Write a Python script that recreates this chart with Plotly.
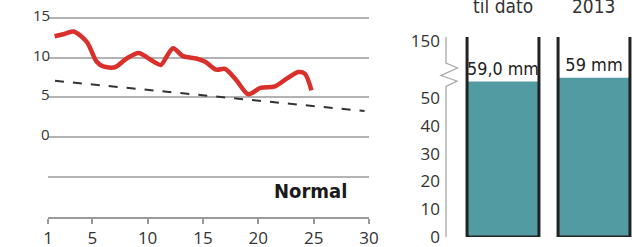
import plotly.graph_objects as go

# ---- data ----
days = [1.6, 2.4, 3.3, 4.5, 5.4, 6.0, 7.05, 8.1, 9.2, 10.2, 11.2, 11.7, 12.3, 13.2,
        14.4, 15.2, 16.2, 17.0, 18.0, 19.1, 20.2, 21.5, 22.6, 23.6, 24.2, 24.8]
temps = [12.7, 12.95, 13.3, 12.0, 9.5, 8.9, 8.8, 9.9, 10.6, 9.8, 9.1, 10.1, 11.2, 10.2,
         9.9, 9.5, 8.5, 8.6, 7.2, 5.4, 6.2, 6.4, 7.4, 8.2, 8.0, 5.9]
normal_days = [1.63, 29.6]
normal_vals = [7.1, 3.3]
x_ticks = [1, 5, 10, 15, 20, 25, 30]
y_grid = [-5, 0, 5, 10, 15]
y_labels = [0, 5, 10, 15]

bar_titles = ["til dato", "2013"]
bar_heights = [55.9, 57.3]
bar_labels = ["59,0 mm", "59 mm"]
bar_ticks = [0, 10, 20, 30, 40, 50, 70.5]
bar_ticktext = ["0", "10", "20", "30", "40", "50", "150"]

W, H = 632, 247
TEAL = "#529ba3"
TXT = "#333333"
NARROW = "DejaVu Sans Condensed, Roboto, sans-serif"
SANS = "Open Sans, sans-serif"

def px_x(p):
    return p / W

def px_y(p):
    return (H - p) / H

fig = go.Figure()

fig.add_trace(go.Scatter(x=normal_days, y=normal_vals, mode="lines",
                         line=dict(color="#333333", width=2, dash="dash"),
                         xaxis="x", yaxis="y", showlegend=False))
fig.add_trace(go.Scatter(x=days, y=temps, mode="lines",
                         line=dict(color="#d9302c", width=4.5, shape="spline", smoothing=0.8),
                         xaxis="x", yaxis="y", showlegend=False))

bar_x = list(range(len(bar_heights)))
BW = 0.79
fig.add_trace(go.Bar(x=bar_x, y=bar_heights, width=BW, marker=dict(color=TEAL, line=dict(width=0)),
                     text=bar_labels, textposition="outside", cliponaxis=False,
                     textfont=dict(family=NARROW, size=18, color="#222222"),
                     xaxis="x2", yaxis="y2", showlegend=False))

fig.update_layout(
    width=W, height=H, margin=dict(l=0, r=0, t=0, b=0, autoexpand=False),
    paper_bgcolor="white", plot_bgcolor="white",
    xaxis=dict(domain=[px_x(48), px_x(369)], range=[1, 30], tickvals=x_ticks,
               showgrid=False, zeroline=False, showline=True, linecolor="#9a9a9a", linewidth=1.5,
               ticks="outside", ticklen=5, tickcolor="#9a9a9a", tickwidth=1.5,
               ticklabeloverflow="allow",
               tickfont=dict(family=SANS, size=17, color=TXT), anchor="y", automargin=False),
    yaxis=dict(domain=[px_y(217), px_y(10)], range=[-10.03, 16.0], tickvals=y_grid,
               showticklabels=False, showgrid=True, gridcolor="#b3b3b3", gridwidth=1.6,
               zeroline=False, showline=False, anchor="x", automargin=False),
    xaxis2=dict(domain=[px_x(447), 1], range=[(447 - 503) / 91, (632 - 503) / 91],
                showticklabels=False, showgrid=False, zeroline=False, showline=False,
                anchor="y2", automargin=False),
    yaxis2=dict(domain=[px_y(237), px_y(30)], range=[0, (237 - 30) / 2.78],
                tickvals=bar_ticks, ticktext=bar_ticktext, ticks="", ticklabelstandoff=6,
                ticklabeloverflow="allow",
                tickfont=dict(family=SANS, size=17, color=TXT),
                showgrid=False, zeroline=False, showline=False, anchor="x2", automargin=False),
)

# y labels of left chart
for v in y_labels:
    fig.add_annotation(x=px_x(52), xref="paper", y=v, yref="y", text=str(v), showarrow=False,
                       xanchor="right", yanchor="middle", yshift=3,
                       font=dict(family=SANS, size=15, color=TXT))

fig.add_annotation(x=24.7, y=-6.76, xref="x", yref="y", text="<b>Normal</b>", showarrow=False,
                   xanchor="center", yanchor="middle",
                   font=dict(family=NARROW, size=20, color="#1a1a1a"))

# bar headers (cut at top)
for i, t in enumerate(bar_titles):
    fig.add_annotation(x=i, xref="x2", y=px_y(6.5), yref="paper", text=t, showarrow=False,
                       xanchor="center", yanchor="middle",
                       font=dict(family=NARROW, size=19, color=TXT))

# glass frames around bars
top_val = (237 - 37) / 2.78
for i in bar_x:
    x0, x1 = i - BW / 2, i + BW / 2
    fig.add_shape(type="path", xref="x2", yref="y2",
                  path=f"M {x0},{top_val} L {x0},0 L {x1},0 L {x1},{top_val}",
                  line=dict(color="#222222", width=3))

# broken axis line
pts = [(446, 37), (446, 63), (457.5, 68), (441, 75.5), (457, 81), (446, 86.5), (446, 237)]
path = "M " + " L ".join(f"{px_x(a)},{px_y(b)}" for a, b in pts)
fig.add_shape(type="path", xref="paper", yref="paper", path=path,
              line=dict(color="#a8a8a8", width=1.3))

fig.write_html("out.html", config={"displayModeBar": False},
               post_script="document.body.style.margin='0';document.body.style.overflow='hidden';")
